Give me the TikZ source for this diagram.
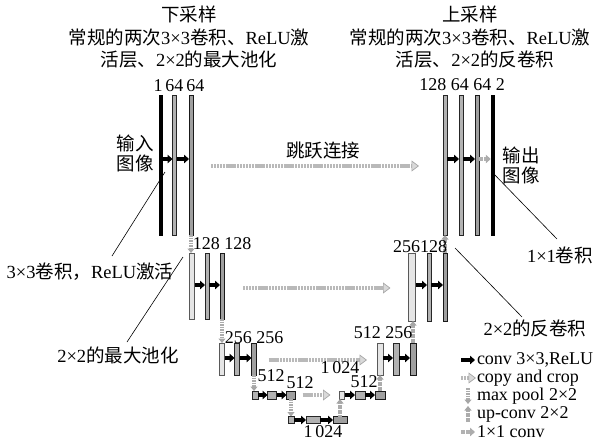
\documentclass[tikz,border=0pt]{standalone}
\usepackage{fontspec}
\setmainfont{Liberation Serif}
\newfontfamily\cjk{Noto Sans CJK SC}
\newcommand{\zh}[1]{{\cjk #1}}
\usetikzlibrary{arrows.meta}
\begin{document}
\begin{tikzpicture}[x=1pt,y=-1pt,
  every node/.style={inner sep=0pt, outer sep=0pt},
  fm/.style={draw=black!85, line width=0.7pt, fill=gray!60, minimum width=4},
  fmdark/.style={draw=black!90, line width=0.7pt, fill=gray!75, minimum width=4},
  fmlight/.style={draw=black!65, line width=0.7pt, fill=gray!20},
  fmblack/.style={draw=black, fill=black, minimum width=3.5},
  txt/.style={font=\fontsize{18.5}{21}\selectfont, align=center},
  num/.style={font=\fontsize{18}{20}\selectfont},
  leg/.style={font=\fontsize{18}{20}\selectfont, anchor=west},
  conv/.style={draw=black, line width=3.4pt, -{Triangle[length=5pt,width=8.5pt]}},
  copyarr/.style={draw=gray!55, line width=4.4pt, dash pattern=on 2.2pt off 0.7pt,
     -{Triangle[length=7.5pt,width=11pt,fill=gray!30,color=gray!70,line width=0.7pt]}},
  pool/.style={draw=gray!65, line width=3.6pt, dash pattern=on 1.8pt off 0.7pt,
     -{Triangle[length=4.5pt,width=7pt,color=gray!70]}},
  oneconv/.style={draw=gray!60, line width=3.2pt, dash pattern=on 1.8pt off 0.6pt,
     -{Triangle[length=5pt,width=8.5pt,color=gray!65]}},
  ann/.style={draw=black, line width=0.6pt}
]
\useasboundingbox (0,0) rectangle (595,442);

% row coordinates
\coordinate (r1) at (0,159);
\coordinate (s1) at (0,166);
\coordinate (r2) at (0,285);
\coordinate (s2) at (0,288);
\coordinate (r3) at (0,358);
\coordinate (s3) at (0,360);
\coordinate (r4) at (0,395);
\coordinate (r5) at (0,420);

% ---- level 1 ----
\node[fmblack, minimum height=140] (L1a) at (160.5,165) {};
\node[fm, minimum height=140] (L1b) at (174.5,165) {};
\node[fmdark, minimum height=140] (L1c) at (191,165) {};
\node[fm, minimum height=140] (R1a) at (445,165) {};
\node[fm, minimum height=140] (R1b) at (461,165) {};
\node[fmdark, minimum height=140] (R1c) at (477,165) {};
\node[fmblack, minimum height=140] (R1d) at (492.5,165) {};

% ---- level 2 ----
\node[fmlight, minimum width=5, minimum height=66] (L2a) at (192,286) {};
\node[fm, minimum height=66] (L2b) at (207,286) {};
\node[fmdark, minimum height=66] (L2c) at (222,286) {};
\node[fmlight, minimum width=7, minimum height=68] (R2a) at (412,287) {};
\node[fm, minimum height=68] (R2b) at (429,287) {};
\node[fmdark, minimum height=68] (R2c) at (445,287) {};

% ---- level 3 ----
\node[fmlight, minimum width=5, minimum height=32] (L3a) at (222,359) {};
\node[fm, minimum width=5, minimum height=32] (L3b) at (237,359) {};
\node[fmdark, minimum width=5, minimum height=32] (L3c) at (254,359) {};
\node[fmlight, minimum width=6, minimum height=32] (R3a) at (380,359) {};
\node[fm, minimum width=6, minimum height=32] (R3b) at (396,359) {};
\node[fmdark, minimum width=6, minimum height=32] (R3c) at (413,359) {};

% ---- level 4 ----
\node[fm, minimum width=6, minimum height=8] (L4a) at (255,395) {};
\node[fm, minimum width=9, minimum height=8] (L4b) at (272,395) {};
\node[fmdark, minimum width=9, minimum height=8] (L4c) at (291,395) {};
\node[fmlight, minimum width=5, minimum height=8] (R4a) at (342,395) {};
\node[fm, minimum width=10, minimum height=8] (R4b) at (360,395) {};
\node[fmdark, minimum width=10, minimum height=8] (R4c) at (380,395) {};

% ---- level 5 ----
\node[fm, minimum width=6, minimum height=7] (B1) at (291,420) {};
\node[fm, minimum width=14, minimum height=7] (B2) at (313,420) {};
\node[fmdark, minimum width=14, minimum height=7] (B3) at (340,420) {};

% ---- conv arrows ----
\draw[conv] (L1a.east |- r1) -- (L1b.west |- r1);
\draw[conv] (L1b.east |- r1) -- (L1c.west |- r1);
\draw[conv] (R1a.east |- r1) -- (R1b.west |- r1);
\draw[conv] (R1b.east |- r1) -- (R1c.west |- r1);
\draw[oneconv] (R1c.east |- r1) -- (R1d.west |- r1);
\draw[conv] (L2a.east |- r2) -- (L2b.west |- r2);
\draw[conv] (L2b.east |- r2) -- (L2c.west |- r2);
\draw[conv] (R2a.east |- r2) -- (R2b.west |- r2);
\draw[conv] (R2b.east |- r2) -- (R2c.west |- r2);
\draw[conv] (L3a.east |- r3) -- (L3b.west |- r3);
\draw[conv] (L3b.east |- r3) -- (L3c.west |- r3);
\draw[conv] (R3a.east |- r3) -- (R3b.west |- r3);
\draw[conv] (R3b.east |- r3) -- (R3c.west |- r3);
\draw[conv] (L4a.east |- r4) -- (L4b.west |- r4);
\draw[conv] (L4b.east |- r4) -- (L4c.west |- r4);
\draw[conv] (R4a.east |- r4) -- (R4b.west |- r4);
\draw[conv] (R4b.east |- r4) -- (R4c.west |- r4);
\draw[conv] (B1.east |- r5) -- (B2.west |- r5);
\draw[conv] (B2.east |- r5) -- (B3.west |- r5);

% ---- copy and crop ----
\draw[copyarr, shorten <=18pt, shorten >=24pt] (L1c.east |- s1) -- (R1a.west |- s1);
\draw[copyarr, shorten <=19pt, shorten >=18pt] (L2c.east |- s2) -- (R2a.west |- s2);
\draw[copyarr, shorten <=12pt, shorten >=10pt] (L3c.east |- s3) -- (R3a.west |- s3);
\draw[copyarr, shorten <=7pt, shorten >=9pt, line width=3.4pt] (L4c.east |- r4) -- (R4a.west |- r4);

% ---- max pool ----
\draw[pool] (L1c.south) -- (L1c.south |- L2a.north);
\draw[pool] (L2c.south) -- (L2c.south |- L3a.north);
\draw[pool] (L3c.south) -- (L3c.south |- L4a.north);
\draw[pool] (L4c.south) -- (L4c.south |- B1.north);

% ---- up conv ----
\draw[pool] (B3.north) -- (B3.north |- R4a.south);
\draw[pool] (R4c.north) -- (R4c.north |- R3a.south);
\draw[pool] (R3c.north) -- (R3c.north |- R2a.south);
\draw[pool] (R2c.north) -- (R2c.north |- R1a.south);

% ---- channel numbers ----
\node[num] (n1) at (179,86) {1\,64\,64};
\node[num] (n2) at (462,85) {128 64 64 2};
\node[num] (n3) at (222,244) {128 128};
\node[num] (n4) at (420,247) {256128};
\node[num] (n5) at (254,338) {256 256};
\node[num] (n6) at (383,333) {512 256};
\node[num] (n7) at (271,376) {512};
\node[num] (n8) at (300,383) {512};
\node[num] (n9) at (340,368) {1\,024};
\node[num] (n10) at (364,382) {512};
\node[num] (n11) at (323,432) {1\,024};

% ---- titles ----
\node[txt] (t1) at (189,14) {\zh{下采样}};
\node[txt] (t2) at (189,37) {\zh{常规的两次}3×3\zh{卷积、}ReLU\zh{激}};
\node[txt] (t3) at (189,60) {\zh{活层、}2×2\zh{的最大池化}};
\node[txt] (t4) at (470,14) {\zh{上采样}};
\node[txt] (t5) at (470,37) {\zh{常规的两次}3×3\zh{卷积、}ReLU\zh{激}};
\node[txt] (t6) at (475,60) {\zh{活层、}2×2\zh{的反卷积}};

\node[txt] (in) at (135,153) {\zh{输入}\\[-1pt]\zh{图像}};
\node[txt] (out) at (521,165) {\zh{输出}\\[-1pt]\zh{图像}};
\node[txt] (skip) at (323,150) {\zh{跳跃连接}};

% ---- annotations ----
\node[txt] (a1) at (90,272) {3×3\zh{卷积，}ReLU\zh{激活}};
\node[txt] (a2) at (118,355) {2×2\zh{的最大池化}};
\node[txt] (a3) at (560,255) {1×1\zh{卷积}};
\node[txt] (a4) at (535,328) {2×2\zh{的反卷积}};
\coordinate (a1s) at (112,256);
\coordinate (a1e) at (165,172);
\coordinate (a2s) at (127,342);
\coordinate (a2e) at (183,257);
\coordinate (a3s) at (557,239);
\coordinate (a3e) at (492,172);
\coordinate (a4s) at (522,317);
\coordinate (a4e) at (455,248);
\draw[ann] (a1s) -- (a1e);
\draw[ann] (a2s) -- (a2e);
\draw[ann] (a3s) -- (a3e);
\draw[ann] (a4s) -- (a4e);

% ---- legend ----
\coordinate (g1a) at (461,360); \coordinate (g1b) at (475,360);
\coordinate (g2a) at (461,378); \coordinate (g2b) at (476,378);
\coordinate (g3a) at (468,388); \coordinate (g3b) at (468,404);
\coordinate (g4a) at (468,422); \coordinate (g4b) at (468,406);
\coordinate (g5a) at (461,432); \coordinate (g5b) at (475,432);
\draw[conv] (g1a) -- (g1b);
\draw[copyarr, line width=3.4pt] (g2a) -- (g2b);
\draw[pool] (g3a) -- (g3b);
\draw[pool] (g4a) -- (g4b);
\draw[oneconv] (g5a) -- (g5b);
\node[leg] (l1) at (477,360) {conv 3×3,ReLU};
\node[leg] (l2) at (477,378) {copy and crop};
\node[leg] (l3) at (477,396) {max pool 2×2};
\node[leg] (l4) at (477,414) {up-conv 2×2};
\node[leg] (l5) at (477,432) {1×1 conv};
\end{tikzpicture}
\end{document}
